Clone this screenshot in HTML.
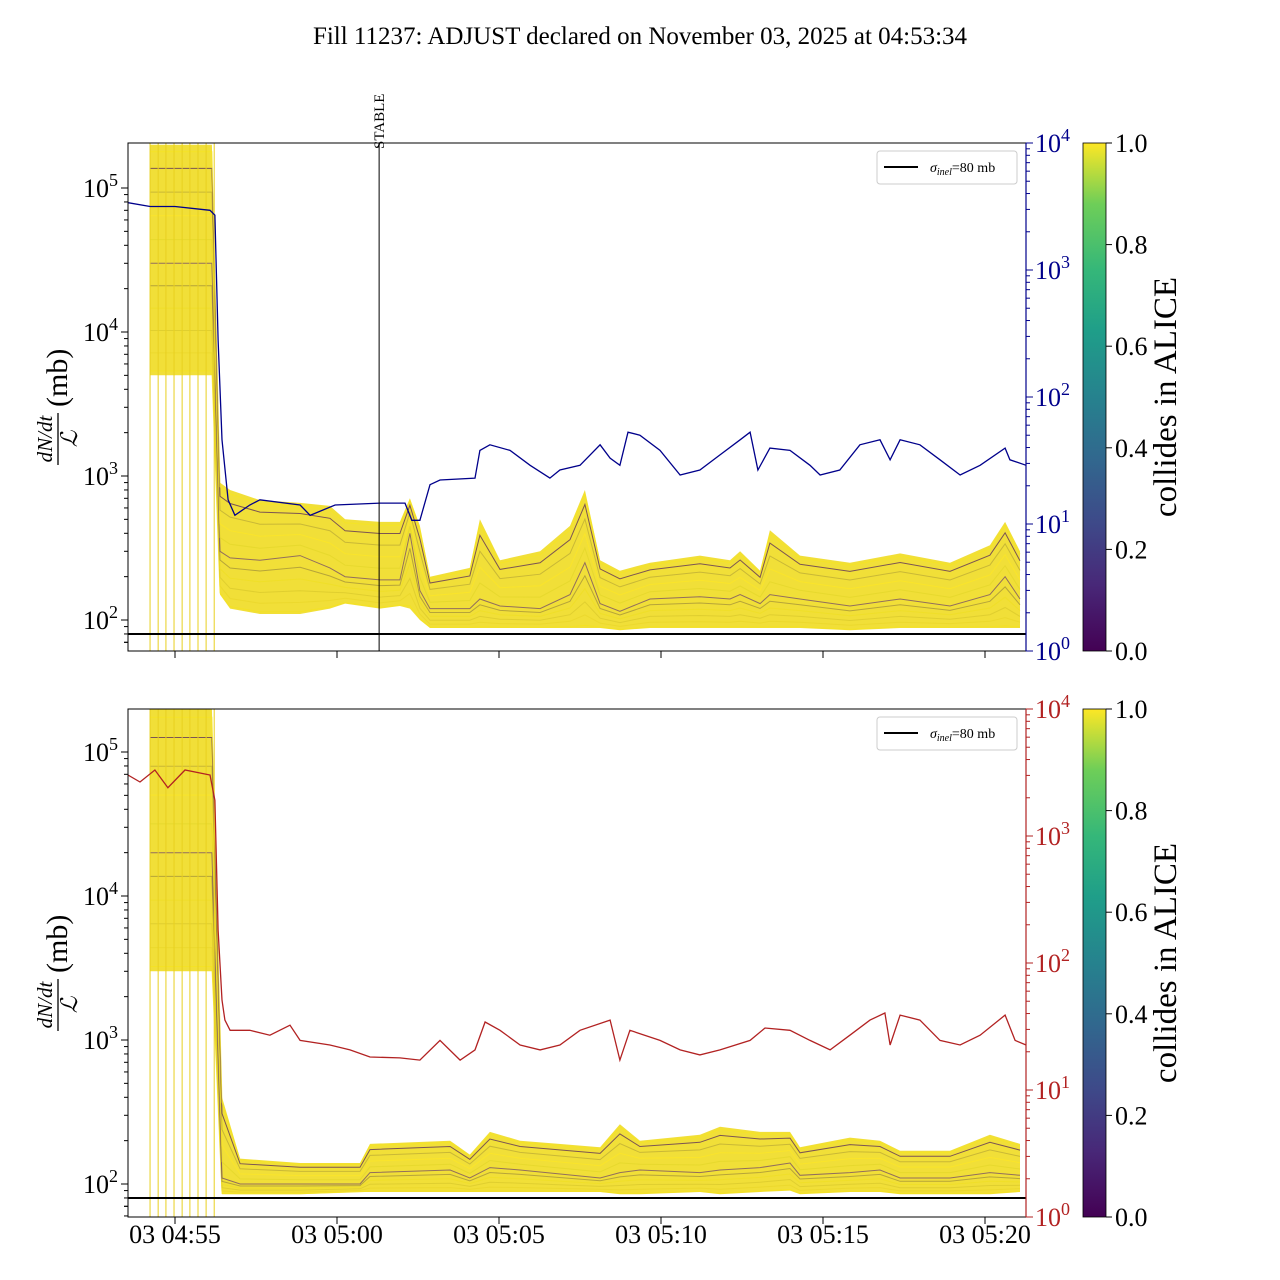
<!DOCTYPE html>
<html><head><meta charset="utf-8">
<style>
body{margin:0;background:#fff;}
svg{display:block;font-family:"Liberation Serif",serif;}
</style></head>
<body>
<svg id="c" width="1280" height="1280" xmlns="http://www.w3.org/2000/svg">
<defs>
<linearGradient id="vir" x1="0" y1="1" x2="0" y2="0">
<stop offset="0" stop-color="#440154"/><stop offset="0.13" stop-color="#482878"/><stop offset="0.25" stop-color="#3e4989"/><stop offset="0.38" stop-color="#31688e"/><stop offset="0.5" stop-color="#26828e"/><stop offset="0.63" stop-color="#1f9e89"/><stop offset="0.75" stop-color="#35b779"/><stop offset="0.88" stop-color="#6ece58"/><stop offset="1" stop-color="#fde725"/>
</linearGradient>
<clipPath id="cpTop"><rect x="128" y="143" width="898" height="508"/></clipPath>
<clipPath id="cpBot"><rect x="128" y="709" width="898" height="508"/></clipPath>
</defs>
<text x="640" y="44" text-anchor="middle" font-size="25">Fill 11237: ADJUST declared on November 03, 2025 at 04:53:34</text>
</svg>
<script>
// time in minutes relative to 04:55
const blueT=[-1.45,-0.77,0,1.08,1.23,1.33,1.45,1.64,1.85,2.31,2.62,3.86,4.17,4.94,6.33,7.10,7.31,7.56,7.87,8.18,9.26,9.41,9.72,10.34,10.96,11.57,11.88,12.50,13.12,13.43,13.73,13.98,14.35,14.97,15.59,16.20,16.82,17.44,17.75,17.99,18.36,18.98,19.60,19.91,20.52,21.14,21.76,22.07,22.38,22.99,23.61,24.23,24.85,25.62,25.77,26.27];
const blueV=[3390,3160,3160,2950,2700,282,46,15.5,11.7,14.1,15.5,14.1,11.7,14.1,14.6,14.6,10.7,10.7,20.4,22.2,23,38,42,38,29,23,26.6,29,42,33,29,52.8,50,38,24.3,26.6,35,46,52.8,26.6,39.6,38,29,24.3,26.6,42,46,32,46,42,32,24.3,29,39.6,32,29];
const redT=[-1.45,-1.08,-0.62,-0.22,0.31,1.08,1.23,1.33,1.45,1.54,1.70,2.31,2.93,3.55,3.86,4.78,5.40,6.02,6.94,7.56,8.18,8.80,9.26,9.57,10.03,10.65,11.27,11.88,12.50,13.43,13.73,14.04,14.97,15.59,16.20,16.82,17.75,18.21,18.98,19.60,20.22,20.83,21.45,21.91,22.07,22.38,22.99,23.61,24.23,24.85,25.62,25.93,26.27];
const redV=[3020,2660,3310,2400,3310,3020,1910,182,51,35.5,29.5,29.5,27,32.4,24.6,22.6,20.7,18.2,17.9,17.2,24.6,17.2,20.7,34.3,29.5,22.6,20.7,22.6,29.5,35.5,17.2,29.5,24.6,20.7,18.9,20.7,24.6,30.8,29.5,24.6,20.7,27,35.5,40.4,22.6,38.9,35.5,24.6,22.6,27,38.9,24.6,22.6];
const topT=[-0.77,1.14,1.39,1.70,2.62,3.86,4.78,5.25,6.33,6.94,7.25,7.56,7.87,9.10,9.41,10.03,11.27,12.19,12.65,13.12,13.73,14.66,16.20,17.13,17.44,18.06,18.36,19.29,20.83,22.38,23.92,25.15,25.62,26.08];
const topLo=[5000,5000,150,120,110,110,120,130,120,125,120,100,88,88,88,88,88,88,88,88,85,88,88,88,88,88,88,88,85,88,88,88,88,88];
const topHi=[200000,200000,900,800,680,650,620,500,480,480,700,450,200,230,500,260,300,450,800,260,220,250,280,260,300,220,420,280,250,290,250,330,480,300];
const topMid=[30000,30000,300,270,260,280,230,200,190,190,400,160,120,120,140,125,120,150,250,130,115,140,145,140,150,130,150,140,125,140,125,150,200,140];
const botT=[-0.77,1.14,1.45,2.01,3.86,5.71,6.02,8.49,9.10,9.72,10.65,13.12,13.73,14.35,16.20,16.82,18.06,18.98,19.29,20.83,21.76,22.38,23.92,25.15,26.08];
const botLo=[3000,3000,85,85,85,88,88,88,88,88,88,88,85,85,88,85,88,90,85,88,88,85,85,85,88];
const botHi=[200000,200000,400,150,140,140,190,200,160,230,200,180,260,200,220,250,230,230,180,210,200,170,170,220,190];
const botMid=[20000,20000,110,100,100,100,120,125,110,130,125,110,120,125,120,125,130,140,115,120,125,110,110,120,115];
const spikeT=[-0.77,-0.52,-0.28,-0.03,0.22,0.46,0.71,0.96,1.21];
const xTicks=[0,5,10,15,20,25];
const xTickLabels=["03 04:55","03 05:00","03 05:05","03 05:10","03 05:15","03 05:20"];
const cbTicks=[0,0.2,0.4,0.6,0.8,1.0];
const sigma=80;
const stableT=6.30;

const NS="http://www.w3.org/2000/svg";
const svg=document.getElementById('c');
function mk(tag,attrs,parent){const e=document.createElementNS(NS,tag);for(const k in attrs)e.setAttribute(k,attrs[k]);(parent||svg).appendChild(e);return e;}
const X=t=>175+t*32.4;
const panels=[
 {top:143,ref:188,T:topT,lo:topLo,hi:topHi,mid:topMid,lt:blueT,lv:blueV,lc:"#00008b",clip:"cpTop",name:"top"},
 {top:709,ref:752,T:botT,lo:botLo,hi:botHi,mid:botMid,lt:redT,lv:redV,lc:"#b22222",clip:"cpBot",name:"bottom"}
];
const fracs=[0.02,0.1,0.2,0.3,0.4,0.5,0.6,0.7,0.8,0.9,0.97];
const fcol=["#f5e31e","#e9d62a","#d8c82c","#f0de22","#9c8a3a","#6a3d6e","#e3d52a","#fde725","#b8a636","#4a1a5e","#f6e620"];
panels.forEach(p=>{
  const YL=v=>p.ref+(5-Math.log10(v))*144;
  const YR=v=>p.top+(4-Math.log10(v))*127;
  const g=mk('g',{'clip-path':`url(#${p.clip})`});
  
  
  let d='';
  p.T.forEach((t,i)=>{d+=(i?'L':'M')+X(t).toFixed(1)+','+YL(p.hi[i]).toFixed(1);});
  for(let i=p.T.length-1;i>=0;i--)d+='L'+X(p.T[i]).toFixed(1)+','+YL(p.lo[i]).toFixed(1);
  const band=mk('path',{d:d+'Z',fill:'#efdc22','fill-opacity':0.9},g);
  
  
  fracs.forEach((f,k)=>{
    let s='';
    p.T.forEach((t,i)=>{
      const lm=Math.log10(p.mid[i]);
      const l=f<0.5?Math.log10(p.lo[i])+(lm-Math.log10(p.lo[i]))*f*2:lm+(Math.log10(p.hi[i])-lm)*(f-0.5)*2;
      s+=(i?'L':'M')+X(t).toFixed(1)+','+YL(Math.pow(10,l)).toFixed(1);
    });
    const ln=mk('path',{d:s,fill:'none',stroke:fcol[k],'stroke-width':1,'stroke-opacity':0.7},g);
    
    
  });
  spikeT.forEach(t=>{
    const v=mk('line',{x1:X(t),x2:X(t),y1:p.top,y2:p.top+508,stroke:'#e8d020','stroke-width':1},g);
    
    
  });
  const sl=mk('line',{x1:128,x2:1026,y1:YL(sigma),y2:YL(sigma),stroke:'#000','stroke-width':2},g);
  
  
  let s2='';
  p.lt.forEach((t,i)=>{s2+=(i?'L':'M')+X(t).toFixed(1)+','+YR(p.lv[i]).toFixed(1);});
  const rl=mk('path',{d:s2,fill:'none',stroke:p.lc,'stroke-width':1.3},g);
  
  
  const fr=mk('rect',{x:128,y:p.top,width:898,height:508,fill:'none',stroke:'#000','stroke-width':1});
  
  
  [2,3,4,5].forEach(e=>{
    const y=YL(Math.pow(10,e));
    mk('line',{x1:128,x2:121,y1:y,y2:y,stroke:'#000'});
    const tx=mk('text',{x:118,y:y+9,'text-anchor':'end','font-size':26});
    tx.innerHTML=`10<tspan dy="-11" font-size="18">${e}</tspan>`;
    
    
    for(let m=2;m<10;m++){const ym=YL(m*Math.pow(10,e-1));if(ym>p.top&&ym<p.top+508)mk('line',{x1:128,x2:124,y1:ym,y2:ym,stroke:'#000'});}
  });
  {const ym=YL(7e1);mk('line',{x1:128,x2:124,y1:ym,y2:ym,stroke:'#000'});}
  [0,1,2,3,4].forEach(e=>{
    const y=YR(Math.pow(10,e));
    mk('line',{x1:1026,x2:1033,y1:y,y2:y,stroke:p.lc});
    const tx=mk('text',{x:1035,y:y+9,'font-size':26,fill:p.lc});
    tx.innerHTML=`10<tspan dy="-11" font-size="18">${e}</tspan>`;
    
    
    if(e<4)for(let m=2;m<10;m++){const ym=YR(m*Math.pow(10,e));mk('line',{x1:1026,x2:1030,y1:ym,y2:ym,stroke:p.lc});}
  });
  mk('line',{x1:1026,x2:1026,y1:p.top,y2:p.top+508,stroke:p.lc,'stroke-width':1.2});
  xTicks.forEach((t,i)=>{
    mk('line',{x1:X(t),x2:X(t),y1:p.top+508,y2:p.top+515,stroke:'#000'});
    if(p.name==='bottom'){
      const tx=mk('text',{x:X(t),y:1243,'text-anchor':'middle','font-size':26});
      tx.textContent=xTickLabels[i];
      
      
    }
  });
  const cy=p.top+254;
  const yl=mk('g',{transform:`translate(58,${cy}) rotate(-90)`});
  
  
  mk('text',{x:-42,y:-6,'text-anchor':'middle','font-size':21,'font-style':'italic'},yl).textContent='dN/dt';
  mk('line',{x1:-68,x2:-16,y1:0,y2:0,stroke:'#000','stroke-width':1.3},yl);
  mk('text',{x:-42,y:19,'text-anchor':'middle','font-size':23,'font-style':'italic'},yl).textContent='ℒ';
  mk('text',{x:-10,y:9,'font-size':30},yl).textContent='(mb)';
  const lg=mk('g',{});
  
  
  mk('rect',{x:877,y:p.top+8,width:140,height:33,rx:3,fill:'#fff',stroke:'#ccc'},lg);
  mk('line',{x1:884,x2:918,y1:p.top+24,y2:p.top+24,stroke:'#000','stroke-width':2},lg);
  const lt=mk('text',{x:930,y:p.top+29,'font-size':14},lg);
  lt.innerHTML='<tspan font-style="italic">σ</tspan><tspan font-size="10" dy="3" font-style="italic">inel</tspan><tspan dy="-3">=80 mb</tspan>';
  const cb=mk('rect',{x:1083,y:p.top,width:23,height:508,fill:'url(#vir)',stroke:'#000','stroke-width':0.8});
  
  
  cbTicks.forEach(v=>{
    const y=p.top+508-v*508;
    mk('line',{x1:1106,x2:1112,y1:y,y2:y,stroke:'#000'});
    const tx=mk('text',{x:1115,y:y+9,'font-size':26});
    tx.textContent=v.toFixed(1);
    
    
  });
  const ct=mk('text',{x:0,y:0,'font-size':33,'text-anchor':'middle',transform:`translate(1176,${cy}) rotate(-90)`});
  ct.textContent='collides in ALICE';
  
  
});
const sx=X(stableT);
const st=mk('line',{x1:sx,x2:sx,y1:143,y2:651,stroke:'#000','stroke-width':1});


const stt=mk('text',{x:0,y:0,'font-size':15,transform:`translate(${sx+5},149) rotate(-90)`});
stt.textContent='STABLE';


</script>
</body></html>
